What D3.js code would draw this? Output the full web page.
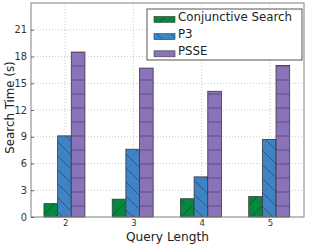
<!DOCTYPE html>
<html>
<head>
  <meta charset="utf-8">
  <script src="https://d3js.org/d3.v7.min.js"></script>
  <style>
    body { margin: 0; background: #fff; }
    svg { display: block; font-family: "DejaVu Sans", sans-serif; }
  </style>
</head>
<body>
<script>
  // values
  var queryLengths = [2, 3, 4, 5];
  var seriesNames = ["Conjunctive Search", "P3", "PSSE"];
  var conjunctive = [1.5, 2.0, 2.05, 2.3];
  var p3 = [9.1, 7.6, 4.5, 8.7];
  var psse = [18.5, 16.7, 14.1, 17.0];
  var yTicks = [0, 3, 6, 9, 12, 15, 18, 21];

  var colors = ["#06873f", "#3d84c6", "#8a73b8"];
  var hatches = ["fwd", "back", "horiz"];
  var series = [conjunctive, p3, psse];

  var W = 309, H = 245;
  var margin = {top: 3, right: 5, bottom: 28, left: 31};
  var w = W - margin.left - margin.right,
      h = H - margin.top - margin.bottom;

  var svg = d3.select("body").append("svg")
      .attr("width", W).attr("height", H);

  // hatch patterns
  var defs = svg.append("defs");
  hatches.forEach(function (kind, i) {
    var p = defs.append("pattern")
        .attr("id", "hatch" + i)
        .attr("patternUnits", "userSpaceOnUse")
        .attr("width", 14).attr("height", 14);
    p.append("rect").attr("width", 14).attr("height", 14).attr("fill", colors[i]);
    var path;
    if (kind === "fwd") path = "M0,14 L14,0 M-3,3 L3,-3 M11,17 L17,11";
    else if (kind === "back") path = "M0,0 L14,14 M-3,11 L3,17 M11,-3 L17,3";
    else path = "M0,7 L14,7";
    p.append("path").attr("d", path)
        .attr("stroke", "rgba(20,20,40,0.5)").attr("stroke-width", 0.8);
  });

  var g = svg.append("g")
      .attr("transform", "translate(" + margin.left + "," + margin.top + ")");

  var x = d3.scaleLinear().domain([1.5, 5.5]).range([0, w]);
  var y = d3.scaleLinear().domain([0, 24]).range([h, 0]);
  var barW = x(1.2) - x(1);

  // grid
  g.selectAll(".gy").data(yTicks.slice(1)).enter().append("line")
      .attr("x1", 0).attr("x2", w)
      .attr("y1", function (d) { return y(d); })
      .attr("y2", function (d) { return y(d); })
      .attr("stroke", "#bbb").attr("stroke-width", 0.8)
      .attr("stroke-dasharray", "1,2");
  g.selectAll(".gx").data(queryLengths).enter().append("line")
      .attr("y1", 0).attr("y2", h)
      .attr("x1", function (d) { return x(d); })
      .attr("x2", function (d) { return x(d); })
      .attr("stroke", "#bbb").attr("stroke-width", 0.8)
      .attr("stroke-dasharray", "1,2");

  // bars
  series.forEach(function (vals, s) {
    g.selectAll(".bar" + s).data(vals).enter().append("rect")
        .attr("x", function (d, i) { return x(queryLengths[i] - 0.31 + s * 0.2); })
        .attr("y", function (d) { return y(d); })
        .attr("width", barW)
        .attr("height", function (d) { return h - y(d); })
        .attr("fill", "url(#hatch" + s + ")")
        .attr("stroke", "#3a3a3a").attr("stroke-width", 0.8);
  });

  // frame
  g.append("rect").attr("width", w).attr("height", h)
      .attr("fill", "none").attr("stroke", "#808080").attr("stroke-width", 1);

  // axes
  var yAxis = g.append("g").call(d3.axisLeft(y).tickValues(yTicks)
      .tickSizeInner(-3).tickSizeOuter(0).tickPadding(4));
  var xAxis = g.append("g").attr("transform", "translate(0," + h + ")")
      .call(d3.axisBottom(x).tickValues(queryLengths).tickFormat(d3.format("d"))
      .tickSizeInner(-3).tickSizeOuter(0).tickPadding(3));
  [yAxis, xAxis].forEach(function (a) {
    a.select(".domain").remove();
    a.selectAll("line").attr("stroke", "#666");
    a.selectAll("text").attr("fill", "#333").style("font-family", "DejaVu Sans");
  });
  yAxis.selectAll("text").style("font-size", "9.8px");
  xAxis.selectAll("text").style("font-size", "8.5px");

  // axis titles
  svg.append("text")
      .attr("x", margin.left + w / 2).attr("y", 241)
      .attr("text-anchor", "middle")
      .attr("fill", "#222").style("font-size", "12.2px")
      .text("Query Length");
  svg.append("text")
      .attr("transform", "translate(14," + 107.5 + ") rotate(-90)")
      .attr("text-anchor", "middle")
      .attr("fill", "#222").style("font-size", "11.8px")
      .text("Search Time (s)");

  // legend
  var leg = svg.append("g").attr("transform", "translate(147,9)");
  leg.append("rect").attr("width", 155).attr("height", 51)
      .attr("fill", "#fff").attr("stroke", "#555").attr("stroke-width", 1);
  seriesNames.forEach(function (name, i) {
    var row = leg.append("g").attr("transform", "translate(0," + (11.7 + i * 17.2) + ")");
    row.append("rect").attr("x", 7).attr("y", -4.3).attr("width", 21).attr("height", 6)
        .attr("fill", "url(#hatch" + i + ")")
        .attr("stroke", "#3a3a3a").attr("stroke-width", 0.6);
    row.append("text").attr("x", 31).attr("y", 0)
        .attr("fill", "#222").style("font-size", "11.8px")
        .text(name);
  });
</script>
</body>
</html>
